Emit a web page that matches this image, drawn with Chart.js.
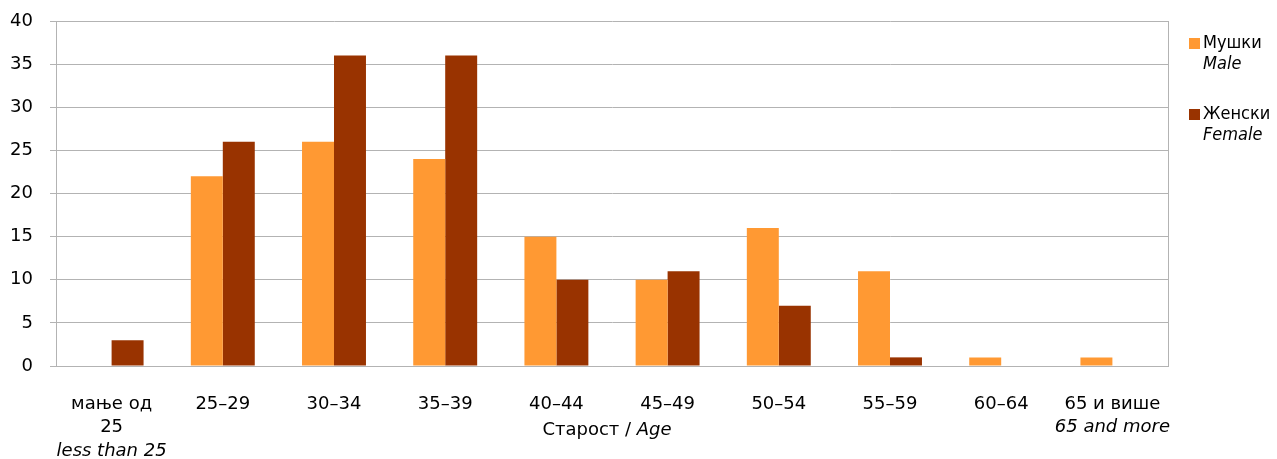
<!DOCTYPE html>
<html><head><meta charset="utf-8">
<script src="https://cdn.jsdelivr.net/npm/chart.js@4/dist/chart.umd.min.js"></script>
<style>html,body{margin:0;padding:0;background:#fff;}#wrap{width:1277px;height:459px;position:relative;}</style>
</head><body><div id="wrap"><canvas id="c"></canvas></div>
<script>
const categories = ["мање од 25","25–29","30–34","35–39","40–44","45–49","50–54","55–59","60–64","65 и више"];
const labelLines = [["мање од","25"],["25–29"],["30–34"],["35–39"],["40–44"],["45–49"],["50–54"],["55–59"],["60–64"],["65 и више"]];
const labelItalic = ["less than 25","","","","","","","","","65 and more"];
const maleValues = [0,22,26,24,15,10,16,11,1,1];
const femaleValues = [3,26,36,36,10,11,7,1,0,0];
const seriesNames = ["Мушки","Женски"];
const seriesNamesEn = ["Male","Female"];
const colors = ["#FF9933","#993300"];
const axisTitle = ["Старост / ","Age"];
const FONT = "DejaVu Sans";
const LFONT = "DejaVu Sans Condensed";
const FS = 18;
const LFS = 18;

const customDraw = {
  id:'customDraw',
  afterDraw(chart){
    const ctx = chart.ctx, ca = chart.chartArea, x = chart.scales.x;
    ctx.save();
    ctx.strokeStyle = '#b3b3b3'; ctx.lineWidth = 1;
    ctx.beginPath(); ctx.moveTo(Math.round(ca.right)+0.5, ca.top); ctx.lineTo(Math.round(ca.right)+0.5, ca.bottom); ctx.stroke();
    ctx.fillStyle = '#000'; ctx.textBaseline = 'middle'; ctx.textAlign = 'center';
    const y0 = 404, lh = 23.5;
    categories.forEach((c,i)=>{
      const px = x.getPixelForValue(i);
      let ly = y0;
      ctx.font = FS + 'px "' + FONT + '"';
      labelLines[i].forEach(l=>{ ctx.fillText(l, px, ly); ly += lh; });
      if (labelItalic[i]) { ctx.font = 'italic ' + FS + 'px "' + FONT + '"'; ctx.fillText(labelItalic[i], px, ly); }
    });
    ctx.font = FS + 'px "' + FONT + '"';
    const w1 = ctx.measureText(axisTitle[0]).width;
    ctx.font = 'italic ' + FS + 'px "' + FONT + '"';
    const w2 = ctx.measureText(axisTitle[1]).width;
    const cx = (ca.left + ca.right)/2 - 5;
    let sx = cx - (w1+w2)/2;
    ctx.textAlign = 'left';
    ctx.font = FS + 'px "' + FONT + '"';
    ctx.fillText(axisTitle[0], sx, y0 + lh + 3);
    ctx.font = 'italic ' + FS + 'px "' + FONT + '"';
    ctx.fillText(axisTitle[1], sx + w1, y0 + lh + 3);
    const ly = [43, 114];
    seriesNames.forEach((n,i)=>{
      ctx.fillStyle = colors[i];
      ctx.fillRect(1189, ly[i]-5, 11, 11);
      ctx.fillStyle = '#000';
      ctx.font = LFS + 'px "' + LFONT + '", "' + FONT + '"';
      ctx.fillText(n, 1203, ly[i]);
      ctx.font = 'italic ' + LFS + 'px "' + LFONT + '", "' + FONT + '"';
      ctx.fillText(seriesNamesEn[i], 1203, ly[i] + 21);
    });
    ctx.restore();
  }
};

new Chart(document.getElementById('c'), {
  type:'bar',
  data:{ labels: categories, datasets:[
    {label: seriesNames[0], data: maleValues, backgroundColor: colors[0], categoryPercentage:0.575, barPercentage:1},
    {label: seriesNames[1], data: femaleValues, backgroundColor: colors[1], categoryPercentage:0.575, barPercentage:1}
  ]},
  options:{
    responsive:true, maintainAspectRatio:false, animation:false,
    layout:{padding:{top:21,right:109,left:0,bottom:0}},
    plugins:{legend:{display:false}, tooltip:{enabled:false}},
    scales:{
      x:{ grid:{display:false}, ticks:{display:false}, border:{color:'#b3b3b3', width:1},
          afterFit(s){ s.height = 93; s.paddingLeft = 0; s.paddingRight = 0; } },
      y:{ min:0, max:40, ticks:{stepSize:5, padding:17, color:'#000', font:{family:FONT, size:FS}},
          grid:{color:'#b3b3b3', tickLength:6, lineWidth:1}, border:{color:'#b3b3b3', width:1},
          afterFit(s){ s.width = 56; s.paddingTop = 0; s.paddingBottom = 0; } }
    }
  },
  plugins:[customDraw]
});
</script></body></html>
